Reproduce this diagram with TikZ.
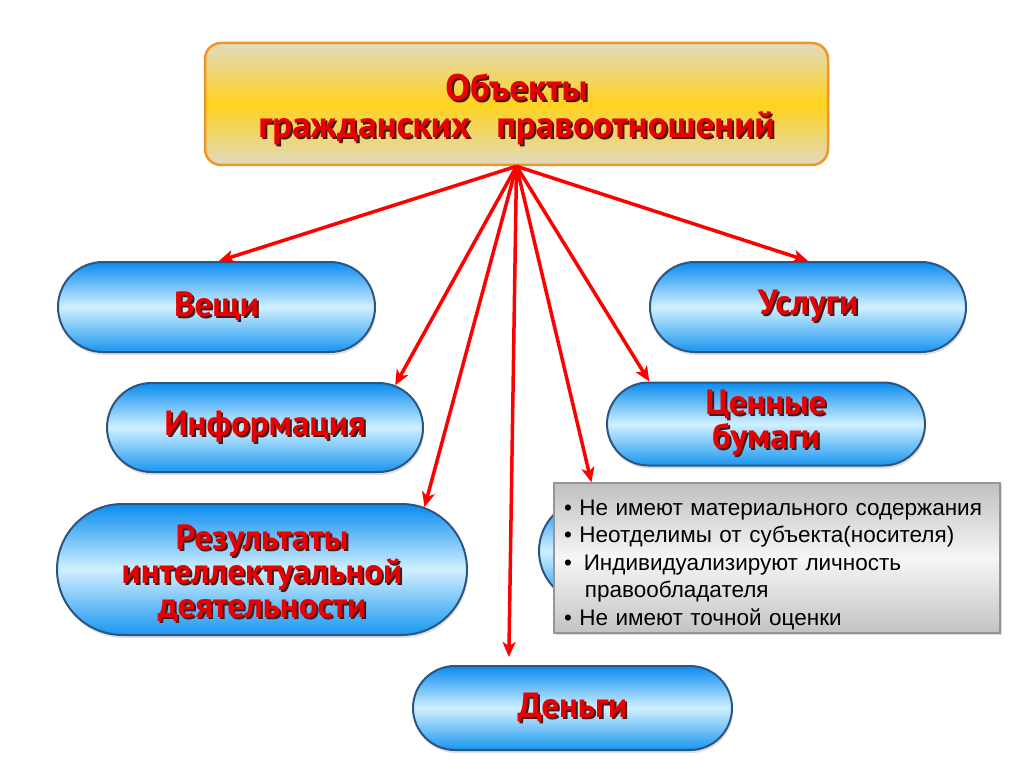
\documentclass[tikz,border=0pt]{standalone}
\usepackage{fontspec}
\setmainfont{Liberation Sans}
\newfontfamily\pillfont{PT Sans}
\usetikzlibrary{shapes.misc,arrows.meta,shadows}
\definecolor{txtred}{RGB}{235,0,0}
\definecolor{shadowc}{RGB}{70,25,25}
\definecolor{pilltop}{RGB}{10,140,240}
\definecolor{pillmid}{RGB}{208,240,255}
\definecolor{pillbot}{RGB}{25,150,240}
\definecolor{pillline}{RGB}{45,85,130}
\definecolor{hdtop}{RGB}{224,218,192}
\definecolor{hdmid}{RGB}{255,210,30}
\definecolor{hdline}{RGB}{240,150,40}
\definecolor{arrowred}{RGB}{255,0,0}
\definecolor{notetop}{RGB}{192,192,192}
\definecolor{notemid}{RGB}{246,246,246}
\definecolor{notebot}{RGB}{195,195,195}
\definecolor{noteline}{RGB}{150,150,150}
\newcommand\shd[1]{\makebox[0pt][l]{\hspace{2pt}\raisebox{-2pt}{\textcolor{shadowc}{#1}}}#1}
\begin{document}
\begin{tikzpicture}[x=1pt,y=-1pt,
  pill/.style={rounded rectangle, draw=pillline, line width=2pt,
    top color=pilltop, bottom color=pillbot, middle color=pillmid,
    text=txtred, font=\pillfont\bfseries\fontsize{35}{34}\selectfont,
    align=center, inner sep=0pt,
    drop shadow={shadow xshift=1pt, shadow yshift=-3pt, opacity=0.25}},
  titlebox/.style={rectangle, rounded corners=16pt, draw=hdline, line width=2.5pt,
    top color=hdtop, bottom color=hdtop, middle color=hdmid,
    text=txtred, font=\pillfont\bfseries\fontsize{37}{37}\selectfont,
    align=center, inner sep=0pt},
  note/.style={rectangle, draw=noteline, line width=1.2pt,
    top color=notetop, bottom color=notebot, middle color=notemid,
    minimum width=446pt, minimum height=150pt, text width=426pt,
    inner xsep=10pt, inner ysep=0pt, align=left, text=black,
    font=\fontsize{22.5}{27.6}\selectfont,
    drop shadow={shadow xshift=2pt, shadow yshift=-2pt, opacity=0.3}},
  arr/.style={draw=arrowred, line width=3.5pt,
    -{Stealth[length=15pt,width=13pt,inset=4pt]}}
]
\path[fill=white, use as bounding box] (0,0) rectangle (1024,767);

\node[titlebox, minimum width=623pt, minimum height=122pt] (title) at (516.5,104)
  {\rule{0pt}{40pt}\shd{Объекты}\\ \shd{гражданских\hspace{0.7em}правоотношений}};

\node[pill, minimum width=317pt, minimum height=90pt] (vesch) at (216.5,307) {\shd{Вещи}};
\node[pill, minimum width=316pt, minimum height=90pt] (uslugi) at (808,307) {\shd{Услуги}};
\node[pill, minimum width=316pt, minimum height=89pt] (info) at (265,427.5) {\shd{Информация}};
\node[pill, minimum width=318pt, minimum height=83pt] (cb) at (766,424) {\shd{Ценные}\\ \shd{бумаги}};
\node[pill, minimum width=410pt, minimum height=131pt] (res) at (262,569.5)
  {\rule{0pt}{34pt}\shd{Результаты}\\ \shd{интеллектуальной}\\ \shd{деятельности}};
\node[pill, minimum width=319pt, minimum height=84pt] (money) at (572.5,708) {\shd{Деньги}};
\node[pill, minimum width=316pt, minimum height=104pt] (hidden) at (697,551) {};

\node[note] (note) at (777,558) {\rule{0pt}{29pt}• Не имеют материального содержания\\
• Неотделимы от субъекта(носителя)\\
•\hspace{0.53em}Индивидуализируют личность\\
\hspace{0.93em}правообладателя\\
• Не имеют точной оценки};

\draw[arr] (title.south) -- (vesch.87);
\draw[arr] (title.south) -- (info.18);
\draw[arr] (title.south) -- (res.21);
\draw[arr, shorten >=8pt] (title.south) -- (money.146);
\draw[arr] (title.south) -- ([xshift=38pt]note.north west);
\draw[arr] (title.south) -- (cb.160);
\draw[arr] (title.south) -- (uslugi.north);
\end{tikzpicture}
\end{document}
